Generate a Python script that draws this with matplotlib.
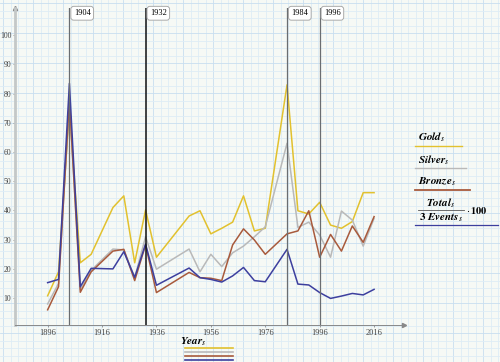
import numpy as np
import matplotlib
matplotlib.use('Agg')
import matplotlib.pyplot as plt
from matplotlib.lines import Line2D

plt.rcParams.update({
    'font.family': 'Liberation Serif',
    'mathtext.fontset': 'stix',
    'xtick.labelsize': 6,
    'ytick.labelsize': 5.6,
})

# US share of Olympic medals (percent)
years = [1896, 1900, 1904, 1908, 1912, 1920, 1924, 1928, 1932, 1936, 1948, 1952,
         1956, 1960, 1964, 1968, 1972, 1976, 1984, 1988, 1992, 1996, 2000, 2004,
         2008, 2012, 2016]
gold = [10.8, 19, 75, 22.1, 25, 41, 45, 22.1, 40.2, 24, 38.1, 39.9,
        32, 33.9, 36, 45, 33, 33.9, 83, 39.9, 38.8, 42.8, 35, 33.9,
        36.2, 46.1, 46.1]
silver = [8, 15, 77, 13, 19.5, 26.8, 26.5, 17, 31, 19.9, 26.8, 19,
          25, 20.8, 25.5, 27.8, 31, 34.4, 63, 34.2, 36, 31.6, 24, 39.8,
          36.7, 27.8, 37.3]
bronze = [6, 13.9, 78, 12, 19, 26.1, 26.7, 16, 28.2, 11.9, 18.8, 17,
          16.8, 16, 28.2, 33.7, 29.9, 25, 32, 33, 39.9, 24, 31.8, 26.1,
          34.7, 29.1, 37.9]
total = [15.3, 16.4, 83.5, 13.9, 20.2, 20, 25.9, 17.1, 28.5, 14.4, 20.3, 17,
         16.4, 15.5, 17.6, 20.5, 16, 15.6, 26.7, 14.8, 14.5, 11.9, 9.9, 10.7,
         11.6, 11.1, 13]
event_years = [1904, 1932, 1984, 1996]

c_gold = '#e2c12e'
c_silver = '#b9b9b9'
c_bronze = '#a85a3c'
c_total = '#3d3f9e'

W, H = 500, 362
fig = plt.figure(figsize=(W / 100, H / 100), dpi=100)
fig.patch.set_facecolor('#f6f9f5')

# worksheet grid paper behind everything
bg = fig.add_axes([0, 0, 1, 1], zorder=0)
bg.set_xlim(0, W)
bg.set_ylim(H, 0)
bg.axis('off')
step = 7.5
for k, v in enumerate(np.arange(3, W, step)):
    bg.axvline(v, color='#c8def0' if k % 4 == 0 else '#deecf6', lw=0.6)
for k, v in enumerate(np.arange(3, H, step)):
    bg.axhline(v, color='#c8def0' if k % 4 == 0 else '#deecf6', lw=0.6)

ax = fig.add_axes([15 / W, 1 - 325 / H, (404 - 15) / W, (325 - 8) / H], zorder=1)
ax.patch.set_alpha(0)
ax.set_xlim(1884, 2027)
ax.set_ylim(0.8, 109.3)

ax.plot(years, gold, color=c_gold, lw=1.1)
ax.plot(years, silver, color=c_silver, lw=1.1)
ax.plot(years, bronze, color=c_bronze, lw=1.1)
ax.plot(years, total, color=c_total, lw=1.1)

for yr in event_years:
    ax.axvline(yr, color='#111111' if yr == 1932 else '#6a6d70', lw=1.1 if yr == 1932 else 0.9)
    ax.text(yr + 1.6, 107.5, str(yr), fontsize=6, ha='left', va='center',
            bbox=dict(boxstyle='round,pad=0.35', fc='white', ec='#aaaaaa', lw=0.7))

ax.set_xticks(range(1896, 2017, 20))
ax.set_yticks(range(10, 101, 10))
ax.tick_params(length=1.5, width=0.5, color='#777777', labelcolor='#444444', pad=1.2)
for s in ['top', 'right']:
    ax.spines[s].set_visible(False)
ax.spines['left'].set_color('#c4c8c8')
ax.spines['left'].set_linewidth(2)
ax.spines['bottom'].set_color('#888888')
ax.spines['bottom'].set_linewidth(0.7)
ax.plot(0, 1, '^', color='#888888', ms=3, transform=ax.transAxes, clip_on=False)
ax.plot(1, 0, '>', color='#888888', ms=3, transform=ax.transAxes, clip_on=False)

# x label with series swatches below it
bg.text(193, 342, r'$\mathbfit{Year}_{\mathit{s}}$', fontsize=8, ha='center', va='center')
for yy, c in zip([347.5, 351.5, 355.5, 359.5], [c_gold, c_silver, c_bronze, c_total]):
    bg.add_line(Line2D([185, 233], [yy, yy], color=c, lw=1.2))

# right-hand legend
bg.text(418, 137, r'$\mathbfit{Gold}_{\mathit{s}}$', fontsize=8, ha='left', va='center')
bg.add_line(Line2D([415, 462], [146, 146], color=c_gold, lw=1))
bg.text(418, 160, r'$\mathbfit{Silver}_{\mathit{s}}$', fontsize=8, ha='left', va='center')
bg.add_line(Line2D([415, 466], [168, 168], color=c_silver, lw=1))
bg.text(418, 182, r'$\mathbfit{Bronze}_{\mathit{s}}$', fontsize=8, ha='left', va='center')
bg.add_line(Line2D([415, 470], [190, 190], color=c_bronze, lw=1.3))
bg.text(441, 203, r'$\mathbfit{Total}_{\mathit{s}}$', fontsize=8, ha='center', va='center')
bg.add_line(Line2D([418, 464], [210, 210], color='#555555', lw=0.6))
bg.text(441, 218, r'$\mathbf{3}\ \mathbfit{Events}_{\mathit{s}}$', fontsize=8, ha='center', va='center')
bg.text(466, 210, r'$\cdot\,\mathbf{100}$', fontsize=7.5, ha='left', va='center')
bg.add_line(Line2D([415, 498], [225, 225], color=c_total, lw=0.9))

fig.savefig('out.png', dpi=100, facecolor=fig.get_facecolor())
